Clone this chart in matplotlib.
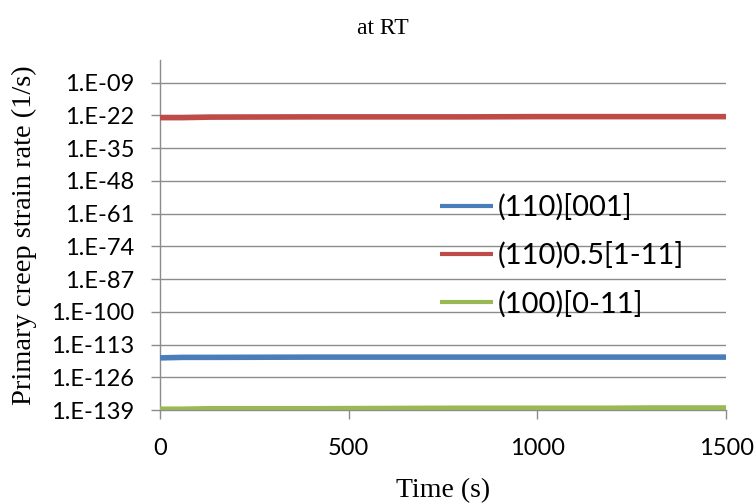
import matplotlib
matplotlib.use("Agg")
import matplotlib.pyplot as plt
from matplotlib.ticker import FixedLocator, FuncFormatter, NullLocator
import numpy as np

# Primary creep strain rate vs. time for three slip systems at room temperature
time_s = [0, 60, 130, 400, 600, 800, 1000, 1200, 1300, 1500]
exp_110_001 = [-118.3, -118.1, -118.1, -118.0, -118.0, -118.0, -118.0, -118.0, -118.0, -118.0]
exp_110_half_1m11 = [-22.9, -22.9, -22.7, -22.6, -22.6, -22.6, -22.5, -22.5, -22.5, -22.5]
exp_100_0m11 = [-138.7, -138.7, -138.5, -138.5, -138.4, -138.3, -138.3, -138.3, -138.2, -138.2]

series_labels = ["(110)[001]", "(110)0.5[1-11]", "(100)[0-11]"]
series_colors = ["#4a7ebb", "#be4b48", "#98b954"]

y_tick_exps = [-9, -22, -35, -48, -61, -74, -87, -100, -113, -126, -139]
x_ticks = [0, 500, 1000, 1500]

label_font = ["Lato", "DejaVu Sans"]
serif_font = ["Liberation Serif", "DejaVu Serif"]

fig = plt.figure(figsize=(7.54, 5.04), dpi=100)
ax = fig.add_axes([0.2122, 0.1865, 0.963 - 0.2122, 0.881 - 0.1865])

series = [exp_110_001, exp_110_half_1m11, exp_100_0m11]
for vals, lab, col in zip(series, series_labels, series_colors):
    ax.plot(time_s, [10.0 ** v for v in vals], color=col, lw=4,
            solid_capstyle="butt", label=lab, zorder=3)

ax.set_yscale("log")
ax.set_ylim(1e-139, 1e0)
ax.set_xlim(0, 1500)
ax.yaxis.set_major_locator(FixedLocator([10.0 ** e for e in y_tick_exps]))
ax.yaxis.set_minor_locator(NullLocator())
ax.yaxis.set_major_formatter(FuncFormatter(
    lambda v, pos: "1.E-%02d" % int(round(-np.log10(v)))))
ax.xaxis.set_major_locator(FixedLocator(x_ticks))
ax.xaxis.set_minor_locator(NullLocator())

ax.grid(axis="y", color="#8c8c8c", lw=1.0, zorder=0)
for side in ("top", "right"):
    ax.spines[side].set_visible(False)
for side in ("left", "bottom"):
    ax.spines[side].set_color("#8c8c8c")
    ax.spines[side].set_linewidth(1.0)
ax.tick_params(axis="both", direction="out", length=6.5, width=1.0,
               color="#8c8c8c", labelsize=17)
ax.tick_params(axis="y", pad=12)
ax.tick_params(axis="x", pad=13.5)
for t in ax.get_xticklabels() + ax.get_yticklabels():
    t.set_fontfamily(label_font)

ax.set_xlabel("Time (s)", fontfamily=serif_font, fontsize=20, labelpad=14)
ax.yaxis.set_label_coords(-0.218, 0.455)
ax.set_ylabel("Primary creep strain rate (1/s)", fontfamily=serif_font,
              fontsize=20.5)
fig.text(0.508, 0.944, "at RT", ha="center", va="center",
         fontfamily=serif_font, fontsize=17)

leg = ax.legend(loc="upper left", bbox_to_anchor=(0.495, 0.618), frameon=False,
                prop={"family": label_font, "size": 21}, handlelength=1.8,
                handletextpad=0.18, labelspacing=0.72, borderpad=0,
                borderaxespad=0)
for h in leg.get_lines():
    h.set_linewidth(3)

fig.savefig("out.png", dpi=100)
